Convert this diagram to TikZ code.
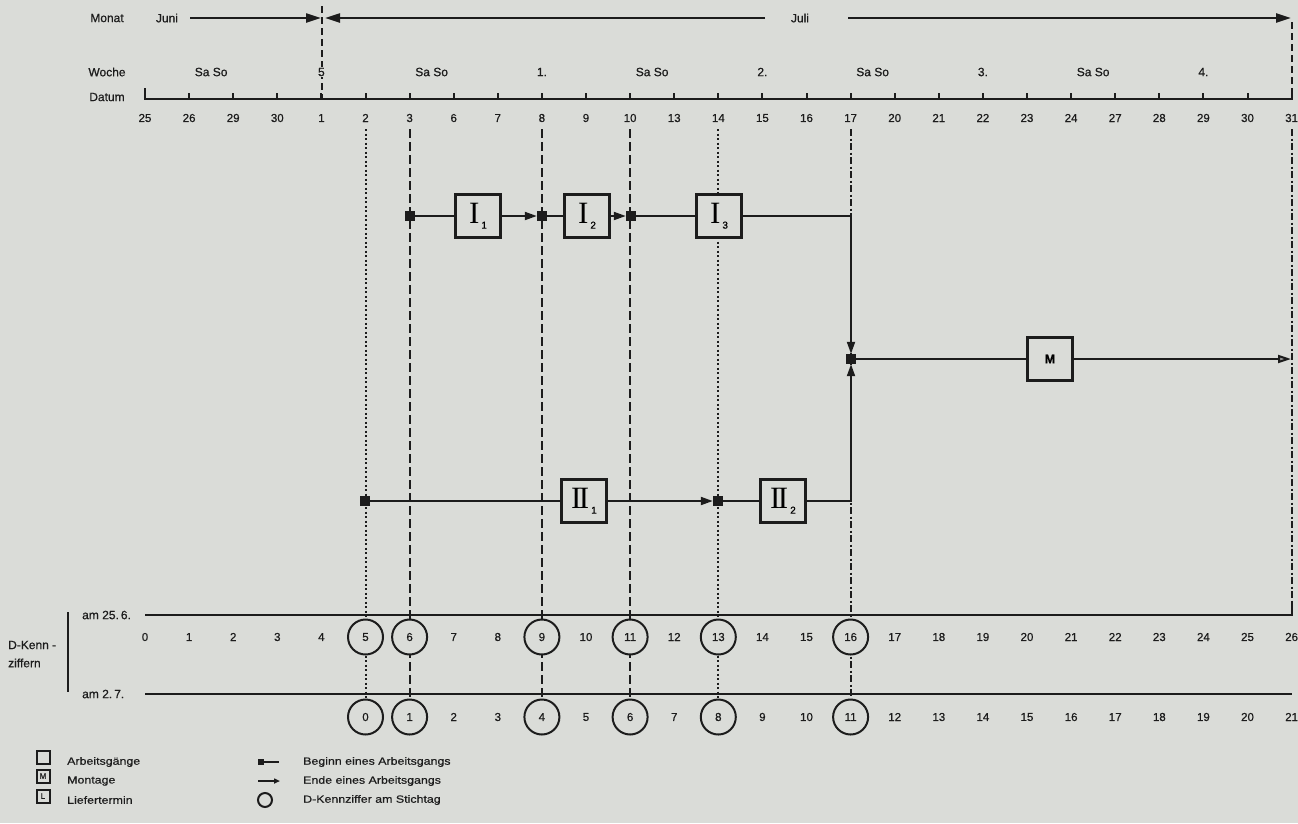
\documentclass[tikz,border=0pt]{standalone}
\usepackage{fontspec}
\setmainfont{Liberation Sans}[FakeBold=0.7]
\newfontfamily\romfont{Liberation Serif}
\newfontfamily\legfont[FakeStretch=1.18,FakeBold=0.5]{Liberation Sans}
\usetikzlibrary{arrows.meta}
\definecolor{bg}{RGB}{218,220,216}
\definecolor{ink}{RGB}{28,28,28}
\newcommand\opl[2]{{\fontsize{31}{31}\romfont #1}\kern2pt\raisebox{-5pt}{\fontsize{10}{10}\selectfont #2}}
\begin{document}
\begin{tikzpicture}[x=1pt,y=-1pt,
  lab/.style={text=ink,font=\fontsize{12}{12}\selectfont,inner sep=0pt},
  num/.style={text=ink,font=\fontsize{11.5}{12}\selectfont,inner sep=0pt},
  leg/.style={text=ink,font=\legfont\fontsize{10.5}{11}\selectfont,inner sep=0pt,anchor=west},
  circnum/.style={num,circle,draw=ink,line width=2pt,fill=bg,minimum size=35pt},
  axis/.style={draw=ink,line width=2.6pt},
  tick/.style={draw=ink,line width=2pt},
  mline/.style={draw=ink,line width=2.2pt},
  pline/.style={draw=ink,line width=2pt},
  tip/.style={-{Triangle[length=12pt,width=8pt]}},
  mtip/.style={-{Triangle[length=15pt,width=9pt]}},
  opbox/.style={draw=ink,line width=2.2pt,fill=bg,minimum width=45pt,minimum height=43pt,inner sep=0pt},
  sq/.style={fill=ink,minimum size=10pt,inner sep=0pt},
  vdot/.style={draw=ink,line width=2pt,dash pattern=on 2pt off 2.5pt},
  vdash/.style={draw=ink,line width=1.8pt,dash pattern=on 9pt off 4pt},
  vdashdot/.style={draw=ink,line width=1.8pt,dash pattern=on 7pt off 2.5pt on 2pt off 2.5pt},
  topdash/.style={draw=ink,line width=1.8pt,dash pattern=on 7pt off 4pt},
  legbox/.style={draw=ink,line width=2pt,minimum size=13pt,inner sep=0pt,font=\fontsize{8}{8}\selectfont,text=ink}
]
\useasboundingbox (0,0) rectangle (1298,823);
\fill[bg] (0,0) rectangle (1298,823);

% ---- header ----
\node[lab] (monat) at (107,18) {Monat};
\node[lab] (juni) at (167,18) {Juni};
\node[lab] (juli) at (800,18) {Juli};
\node[lab] (woche) at (107,72) {Woche};
\node[lab] (datum) at (107,97) {Datum};

\coordinate (mA) at (190,18);
\coordinate (m1) at (321,18);
\coordinate (mB) at (765,18);
\coordinate (m1b) at (325,18);
\coordinate (mC) at (848,18);
\coordinate (m31) at (1291,18);
\draw[mline,mtip] (mA) -- (m1);
\draw[mline,mtip] (mB) -- (m1b);
\draw[mline,mtip] (mC) -- (m31);

\coordinate (vt1) at (322,6);
\coordinate (vb1) at (322,99);
\coordinate (vt2) at (1292,22);
\coordinate (vb2) at (1292,99);
\draw[topdash] (vt1) -- (vb1);
\draw[topdash] (vt2) -- (vb2);

% week labels
\foreach \t/\p [count=\k] in {Sa So/1.5, 5/4, Sa So/6.5, 1./9, Sa So/11.5, 2./14, Sa So/16.5, 3./19, Sa So/21.5, 4./24}{
  \node[lab,fill=bg,inner sep=1pt] (w\k) at ({145+44.1*\p},72) {\t};
}

% date axis
\coordinate (ax0) at (145,88);
\coordinate (ax1) at (145,99);
\coordinate (ax2) at (1292,99);
\coordinate (ax3) at (1292,92);
\draw[axis] (ax0) -- (ax1) -- (ax2) -- (ax3);
\foreach \d [count=\i from 0] in {25,26,29,30,1,2,3,6,7,8,9,10,13,14,15,16,17,20,21,22,23,24,27,28,29,30,31}{
  \node[num] (d\i) at ({145+44.1*\i},118) {\d};
  \ifnum\i>0 \ifnum\i<26 \draw[tick] ({145+44.1*\i},99) -- ++(0,-6); \fi\fi
}

% ---- vertical reference lines ----
\foreach \i/\s in {5/vdot, 6/vdash, 9/vdash, 11/vdash, 13/vdot, 16/vdashdot}{
  \coordinate (vt\i) at ({145+44.1*\i},129);
  \coordinate (vb\i) at ({145+44.1*\i},700);
  \draw[\s] (vt\i) -- (vb\i);
}
\coordinate (vr1) at (1292,129);
\coordinate (vr2) at (1292,604);
\draw[vdashdot] (vr1) -- (vr2);

% ---- D-Kennziffer lines ----
\coordinate (l1a) at (145,615);
\coordinate (l1b) at (1292,615);
\coordinate (l1c) at (1292,603);
\draw[axis] (l1a) -- (l1b) -- (l1c);
\coordinate (l2a) at (145,694);
\coordinate (l2b) at (1292,694);
\draw[axis] (l2a) -- (l2b);

\node[lab,anchor=west] (am1) at (82,615) {am 25.\,6.};
\node[lab,anchor=west] (am2) at (82,694) {am 2.\,7.};
\node[lab,anchor=west] (dk1) at (8,645) {D-Kenn -};
\node[lab,anchor=west] (dk2) at (8,663) {ziffern};
\coordinate (br1) at (68,612);
\coordinate (br2) at (68,692);
\draw[tick] (br1) -- (br2);

\foreach \i in {0,1,2,3,4,7,8,10,12,14,15,17,18,19,20,21,22,23,24,25,26}{
  \node[num] (ka\i) at ({145+44.1*\i},637) {\i};
}
\foreach \i in {5,6,9,11,13,16}{
  \node[circnum] (ka\i) at ({145+44.1*\i},637) {\i};
}
\foreach \v in {2,3,5,7,9,10,12,13,14,15,16,17,18,19,20,21}{
  \node[num] (kb\v) at ({145+44.1*(\v+5)},717) {\v};
}
\foreach \v in {0,1,4,6,8,11}{
  \node[circnum] (kb\v) at ({145+44.1*(\v+5)},717) {\v};
}

% ---- process network ----
\node[sq] (s1) at (410,216) {};
\node[opbox] (I1) at (478,216) {\opl{I}{1}};
\node[sq] (s2) at (542,216) {};
\node[opbox] (I2) at (587,216) {\opl{I}{2}};
\node[sq] (s3) at (631,216) {};
\node[opbox] (I3) at (719,216) {\opl{I}{3}};

\node[sq] (t1) at (365,501) {};
\node[opbox] (II1) at (584,501) {\opl{I\kern-2.6pt I}{1}};
\node[sq] (t2) at (718,501) {};
\node[opbox] (II2) at (783,501) {\opl{I\kern-2.6pt I}{2}};

\node[sq] (sM) at (851,359) {};
\node[opbox] (M) at (1050,359) {\fontsize{12.5}{12.5}\selectfont\bfseries M};
\coordinate (endM) at (1291,359);

\draw[pline] (s1) -- (I1);
\draw[pline,tip] (I1) -- (s2);
\draw[pline] (s2) -- (I2);
\draw[pline,tip] (I2) -- (s3);
\draw[pline] (s3) -- (I3);
\draw[pline,tip] (I3.east) -| (sM);

\draw[pline] (t1) -- (II1);
\draw[pline,tip] (II1) -- (t2);
\draw[pline] (t2) -- (II2);
\draw[pline,tip] (II2.east) -| (sM);

\draw[pline] (sM) -- (M);
\draw[pline,-{Triangle[length=13pt,width=8pt,fill=gray!80]}] (M) -- (endM);

% ---- legend ----
\node[legbox] (lg1) at (43,757) {};
\node[legbox] (lg2) at (43,776) {M};
\node[legbox] (lg3) at (43,796) {L};
\node[leg] (lt1) at (67,762) {Arbeitsgänge};
\node[leg] (lt2) at (67,781) {Montage};
\node[leg] (lt3) at (67,800) {Liefertermin};

\node[fill=ink,minimum size=6pt,inner sep=0pt] (lgs) at (261,762) {};
\coordinate (lgse) at (279,762);
\draw[pline] (lgs) -- (lgse);
\coordinate (lga1) at (258,781);
\coordinate (lga2) at (280,781);
\draw[pline,-{Triangle[length=6pt,width=5pt]}] (lga1) -- (lga2);
\node[circle,draw=ink,line width=2pt,minimum size=14pt,inner sep=0pt] (lgc) at (265,800) {};
\node[leg] (lt4) at (303,762) {Beginn eines Arbeitsgangs};
\node[leg] (lt5) at (303,781) {Ende eines Arbeitsgangs};
\node[leg] (lt6) at (303,800) {D-Kennziffer am Stichtag};
\end{tikzpicture}
\end{document}
